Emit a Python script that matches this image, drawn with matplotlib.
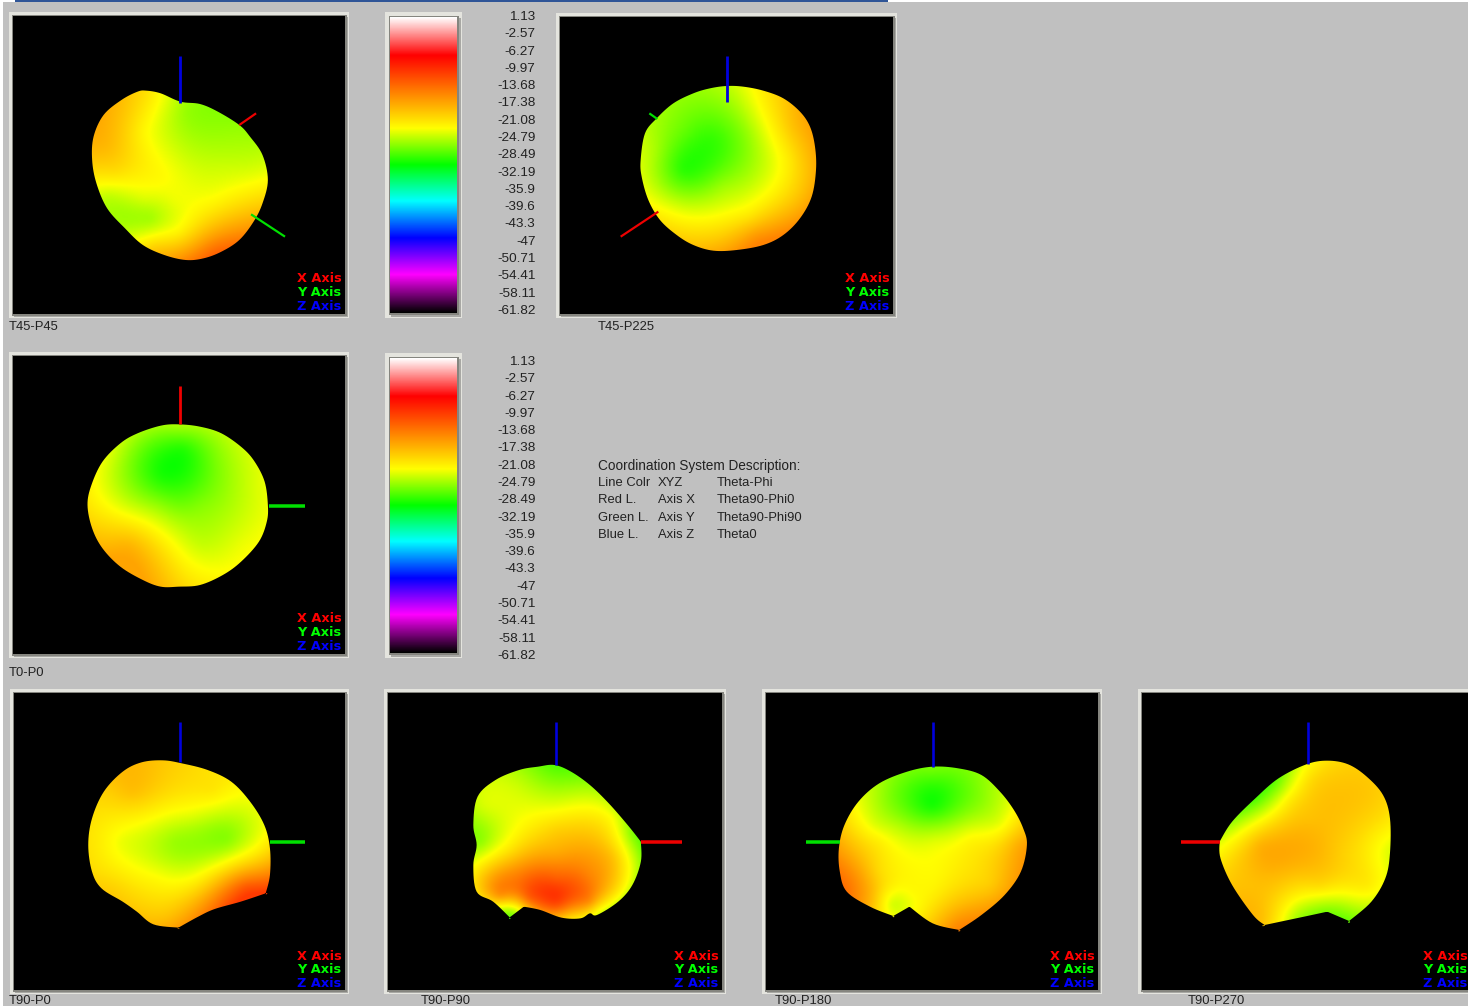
import numpy as np
import matplotlib
matplotlib.use("Agg")
import matplotlib.pyplot as plt
from matplotlib.colors import LinearSegmentedColormap, Normalize
from matplotlib.patches import Rectangle, Polygon

plt.rcParams['font.family'] = ['Liberation Sans', 'DejaVu Sans']

W, H = 1468, 1008
BG = '#c0c0c0'

scale_labels = [1.13, -2.57, -6.27, -9.97, -13.68, -17.38, -21.08, -24.79, -28.49,
                -32.19, -35.9, -39.6, -43.3, -47, -50.71, -54.41, -58.11, -61.82]
scale_stops = [-61.82, -53.7, -45.9, -38.0, -30.3, -22.5, -6.95, 1.13]
scale_colors = ['#000000', '#ff00ff', '#0000ff', '#00ffff', '#00ff00', '#ffff00', '#ff0000', '#ffffff']

desc_rows = [["Coordination System Description:", "", ""],
             ["Line Colr", "XYZ", "Theta-Phi"],
             ["Red L.", "Axis X", "Theta90-Phi0"],
             ["Green L.", "Axis Y", "Theta90-Phi90"],
             ["Blue L.", "Axis Z", "Theta0"]]

t45p45_outline = [(410,272),(450,280),(505,305),(560,312),(610,335),(670,375),(700,410),(735,465),(750,540),(735,610),(710,665),(670,720),(620,755),(570,775),(520,780),(460,765),(400,735),(350,685),(300,625),(270,550),(258,480),(262,410),(290,345),(340,300),(385,275)]
t45p225_outline = [(530,258),(580,260),(640,272),(700,295),(750,335),(780,380),(795,440),(798,510),(785,590),(750,655),(700,705),(640,735),(560,750),(490,752),(430,735),(380,705),(330,660),(295,600),(275,530),(272,480),(285,400),(320,355),(370,310),(430,280),(480,265)]
t0p0_outline = [(500,238),(560,245),(620,265),(678,308),(713,350),(741,410),(750,480),(747,530),(725,590),(675,650),(624,690),(560,720),(500,725),(450,725),(400,705),(337,665),(287,610),(258,550),(245,480),(256,420),(287,350),(337,295),(385,265),(450,242)]
t90p0_outline = [(345,226),(385,235),(440,255),(490,290),(530,350),(560,420),(572,490),(572,570),(563,625),(563,625),(510,650),(455,672),(420,695),(378,728),(378,728),(325,718),(290,680),(260,650),(215,610),(195,560),(187,480),(195,400),(220,320),(260,260),(300,232)]
t90p90_outline = [(1175,240),(1210,260),(1250,300),(1290,355),(1330,420),(1358,470),(1358,470),(1358,530),(1340,600),(1310,650),(1265,690),(1250,685),(1230,700),(1190,698),(1145,675),(1110,665),(1110,665),(1080,697),(1080,697),(1045,650),(1010,620),(1003,540),(1010,480),(1003,420),(1012,335),(1050,285),(1100,255),(1140,245)]
t90p180_outline = [(415,245),(470,250),(520,270),(560,320),(590,375),(610,430),(618,480),(605,560),(570,630),(520,690),(472,735),(472,735),(415,715),(365,665),(365,665),(330,693),(330,693),(280,665),(230,620),(215,560),(213,490),(225,420),(255,350),(300,295),(360,260)]
t90p270_outline = [(1265,227),(1310,238),(1350,275),(1385,330),(1400,400),(1400,505),(1390,580),(1360,650),(1312,708),(1312,708),(1265,680),(1265,680),(1215,695),(1130,720),(1130,720),(1105,690),(1060,600),(1035,520),(1033,470),(1033,470),(1060,410),(1110,340),(1160,280),(1220,238)]

# --- gain read at points on each surface (x, y, dB)
t45p45_gain = [(300,440,-18),(350,330,-19),(420,290,-21),(400,400,-22.5),(520,340,-26),(600,360,-26),(660,400,-25.5),(520,480,-24),(620,500,-24),(720,520,-23.5),(450,530,-22),(320,520,-20),(600,600,-22.5),(300,590,-25),(420,660,-26.5),(360,670,-25.5),(500,700,-22.5),(680,620,-20),(640,720,-15),(520,770,-16),(600,755,-13),(430,740,-19),(490,600,-22.5),(400,600,-23)]
t45p225_gain = [(400,510,-30),(490,420,-29),(530,300,-25.5),(400,400,-27),(320,450,-25),(300,560,-24),(520,560,-25),(650,500,-24),(720,480,-21.5),(650,320,-21.5),(730,380,-18.5),(760,470,-19),(700,300,-19.5),(600,650,-21.5),(620,710,-15.5),(520,730,-18.5),(440,710,-20),(740,600,-19),(350,650,-21.5),(400,640,-23),(320,380,-25.5),(480,300,-26),(600,400,-25.5),(300,480,-24.5),(450,600,-25)]
t0p0_gain = [(450,390,-30),(510,310,-30),(500,480,-27),(400,300,-27),(600,350,-26.5),(650,480,-25),(290,400,-23.5),(270,490,-21.5),(350,480,-24),(360,600,-17.5),(400,660,-17.5),(300,600,-18.5),(470,580,-22.5),(520,680,-21.5),(560,600,-24.5),(670,600,-23),(720,420,-23.5),(440,480,-25.5),(500,240,-24.5),(600,680,-22.5),(720,500,-23.5),(350,380,-26),(560,480,-26),(400,480,-25),(300,320,-23)]
t90p0_gain = [(480,465,-27),(370,470,-26),(260,470,-23.5),(200,480,-21),(280,320,-18),(350,250,-19.5),(450,320,-20.5),(400,390,-23),(530,420,-24),(550,560,-17),(520,610,-11),(470,640,-14),(420,600,-21),(330,580,-22),(540,490,-22.5),(350,700,-19),(240,610,-19.5),(300,400,-22),(200,560,-20.5),(440,260,-21),(500,310,-22),(230,330,-20)]
t90p90_gain = [(1175,245,-28),(1250,310,-25),(1100,300,-24),(1030,360,-23),(1020,470,-27),(1180,360,-23.5),(1300,400,-22),(1340,450,-27),(1180,500,-18),(1300,520,-18),(1080,500,-21),(1050,590,-16),(1180,640,-9),(1060,630,-11),(1300,610,-19),(1270,670,-24),(1210,690,-21),(1075,670,-27),(1120,640,-10),(1250,650,-12),(1180,660,-10),(1095,670,-26),(1180,580,-14),(1100,580,-15),(1250,570,-16),(1180,440,-19)]
t90p180_gain = [(415,360,-31),(420,300,-29),(320,340,-26.5),(520,340,-26.5),(290,420,-24),(560,420,-24),(420,420,-26),(240,500,-18),(600,480,-17),(420,520,-22.5),(420,620,-22),(300,560,-21),(235,600,-14),(330,660,-26),(310,640,-22),(290,650,-18),(470,720,-15),(540,600,-20),(350,480,-23),(300,470,-21),(500,460,-21.5),(420,470,-23),(350,420,-25),(415,250,-26),(300,320,-25),(530,320,-25.5),(330,600,-21),(370,620,-21.5),(290,610,-18),(420,560,-22.5)]
t90p270_gain = [(1120,480,-17),(1220,480,-17.5),(1300,500,-20),(1395,500,-24),(1110,345,-28),(1160,300,-27),(1180,340,-21),(1230,280,-20),(1300,300,-19),(1060,420,-25),(1385,400,-20.5),(1100,600,-19),(1250,600,-19.5),(1350,600,-20.5),(1290,670,-26),(1200,695,-26),(1260,680,-27),(1125,705,-18),(1220,250,-22),(1350,330,-19),(1230,400,-19),(1200,580,-19.5),(1100,560,-18.5)]

RED, GREEN, BLUE = '#ee0000', '#00e000', '#0000dd'

panels = [
 dict(cap="T45-P45", cx=9, cy=327, box=(13,16,345,314), t=(2.8,3,0,0), out=t45p45_outline, gain=t45p45_gain,
      axes=[((717,340),(670,375),RED,2.2),((703,643),(798,710),GREEN,2.2),((503,168),(503,308),BLUE,2.8)], leg=279),
 dict(cap="T45-P225", cx=598, cy=327, box=(560,17,893,314), t=(3,3,550,0), out=t45p225_outline, gain=t45p225_gain,
      axes=[((212,710),(325,635),RED,2.2),((298,340),(322,357),GREEN,2.2),((532,168),(532,305),BLUE,2.8)], leg=279),
 dict(cap="T0-P0", cx=9, cy=673, box=(13,356,345,654), t=(2.8,3,0,345), out=t0p0_outline, gain=t0p0_gain,
      axes=[((503,122),(503,238),RED,2.8),((752,482),(855,482),GREEN,3.5)], leg=619),
 dict(cap="T90-P0", cx=9, cy=1001, box=(14,693,345,990), t=(2.119,3,0,685), out=t90p0_outline, gain=t90p0_gain,
      axes=[((381,112),(381,232),BLUE,2.6),((572,472),(647,472),GREEN,3.5)], leg=956),
 dict(cap="T90-P90", cx=421, cy=1001, box=(388,693,722,990), t=(2.119,3,0,685), out=t90p90_outline, gain=t90p90_gain,
      axes=[((1178,112),(1178,240),BLUE,2.6),((1358,472),(1445,472),RED,3.5)], leg=956),
 dict(cap="T90-P180", cx=775, cy=1001, box=(766,693,1098,990), t=(2.154,3,740,685), out=t90p180_outline, gain=t90p180_gain,
      axes=[((416,112),(416,245),BLUE,2.6),((142,472),(215,472),GREEN,3.5)], leg=956),
 dict(cap="T90-P270", cx=1188, cy=1001, box=(1142,693,1471,990), t=(2.154,3,740,685), out=t90p270_outline, gain=t90p270_gain,
      axes=[((1223,112),(1223,238),BLUE,2.6),((950,472),(1033,472),RED,3.5)], leg=956),
]

cmap = LinearSegmentedColormap.from_list(
    'gain', [((v - scale_stops[0]) / (scale_stops[-1] - scale_stops[0]), c)
             for v, c in zip(scale_stops, scale_colors)], N=1024)
norm = Normalize(scale_stops[0], scale_stops[-1])

fig = plt.figure(figsize=(W / 100, H / 100), dpi=100, facecolor='white')
ax = fig.add_axes([0, 0, 1, 1])
ax.set_axis_off()


def frame(x0, y0, x1, y1, pad=4):
    ax.add_patch(Rectangle((x0 - pad, y0 - pad), x1 - x0 + 2 * pad, y1 - y0 + 2 * pad,
                           fc='#e4e4de', ec='none', zorder=1))
    ax.add_patch(Rectangle((x0 + 1, y0 + 1), x1 - x0 + pad - 2, y1 - y0 + pad - 2,
                           fc='#a8a8a4', ec='none', zorder=1))
    ax.add_patch(Rectangle((x0 - 1.5, y0 - 1.5), x1 - x0 + 3, y1 - y0 + 3,
                           fc='#85857f', ec='none', zorder=1.5))
    ax.add_patch(Rectangle((x0, y0), x1 - x0, y1 - y0, fc='black', ec='none', zorder=2))


def smooth_closed(pts, n=8):
    p = np.asarray(pts, float)
    t = np.linspace(0, 1, n, endpoint=False)[:, None]
    res = []
    for i in range(len(p)):
        p0, p1, p2, p3 = p[i - 1], p[i], p[(i + 1) % len(p)], p[(i + 2) % len(p)]
        res.append(0.5 * (2 * p1 + (p2 - p0) * t + (2 * p0 - 5 * p1 + 4 * p2 - p3) * t ** 2
                          + (3 * p1 - p0 - 3 * p2 + p3) * t ** 3))
    return np.vstack(res)


def tps(r2):
    return np.where(r2 > 0, r2 * np.log(np.maximum(r2, 1e-9)) * 0.5, 0.0)


def surface(px, py, v, X, Y, smooth=500.0):
    """Smooth surface through gain readings (thin-plate spline)."""
    n = len(v)
    K = tps((px[:, None] - px) ** 2 + (py[:, None] - py) ** 2) + smooth * np.eye(n)
    P = np.c_[np.ones(n), px, py]
    A = np.block([[K, P], [P.T, np.zeros((3, 3))]])
    sol = np.linalg.solve(A, np.r_[v, np.zeros(3)])
    U = tps((X[..., None] - px) ** 2 + (Y[..., None] - py) ** 2)
    f = (U * sol[:n]).sum(-1) + sol[n] + sol[n + 1] * X + sol[n + 2] * Y
    return np.clip(f, v.min() - 0.5, v.max() + 0.5)


ax.add_patch(Rectangle((3, 2), W, H - 4, fc=BG, ec='none', zorder=0))
ax.add_patch(Rectangle((15, 0), 873, 2.4, fc='#2f5597', ec='none', zorder=0.5))

for p in panels:
    x0, y0, x1, y1 = p['box']
    frame(x0, y0, x1, y1)
    sx, sy, ox, oy = p['t']
    outline = smooth_closed(np.array(p['out'], float) / (sx, sy) + (ox, oy))
    gain = np.array(p['gain'], float)
    gx, gy = gain[:, 0] / sx + ox, gain[:, 1] / sy + oy
    xs = np.arange(outline[:, 0].min() - 2, outline[:, 0].max() + 3)
    ys = np.arange(outline[:, 1].min() - 2, outline[:, 1].max() + 3)
    X, Y = np.meshgrid(xs, ys)
    field = surface(gx, gy, gain[:, 2], X, Y)
    for a, b, col, lw in p['axes']:
        ax.plot([a[0] / sx + ox, b[0] / sx + ox], [a[1] / sy + oy, b[1] / sy + oy], color=col,
                lw=lw * 0.72, solid_capstyle='butt', zorder=4)
    im = ax.imshow(field, cmap=cmap, norm=norm, interpolation='bilinear', aspect='auto',
                   extent=(xs[0], xs[-1], ys[-1], ys[0]), zorder=3)
    im.set_clip_path(Polygon(outline, closed=True, transform=ax.transData))
    for i, (lab, col) in enumerate((("X Axis", '#ff0000'), ("Y Axis", '#00ff00'), ("Z Axis", '#0000ff'))):
        ax.text(x1 - 3.5, p['leg'] + i * 13.9, lab, color=col, ha='right', va='center',
                fontsize=9.3, fontweight='bold', family=['DejaVu Sans'], zorder=5)
    ax.text(p['cx'], p['cy'], p['cap'], ha='left', va='center', fontsize=9.4, color='#222222', zorder=5)

gradient = np.linspace(scale_labels[0], scale_labels[-1], 400)[:, None]
for (by0, by1, ly0) in ((17, 313, 17), (358, 653, 362)):
    frame(390, by0, 457, by1, pad=5)
    ax.imshow(gradient, cmap=cmap, norm=norm, aspect='auto', extent=(390, 457, by1, by0), zorder=3)
    for i, v in enumerate(scale_labels):
        ax.text(535.5, ly0 + i * 17.29, f"{v:g}", ha='right', va='center', fontsize=9.7,
                color='#222222', zorder=5)

col_x = [598.5, 657.5, 716.5]
for r, row in enumerate(desc_rows):
    for c, s in enumerate(row):
        if s:
            ax.text(col_x[c], 466 + r * 17.2, s, ha='left', va='center',
                    fontsize=9.8 if r == 0 else 9.4, color='#222222', zorder=5)

ax.set_xlim(0, W)
ax.set_ylim(H, 0)
fig.savefig('out.png', dpi=100, facecolor='white')
